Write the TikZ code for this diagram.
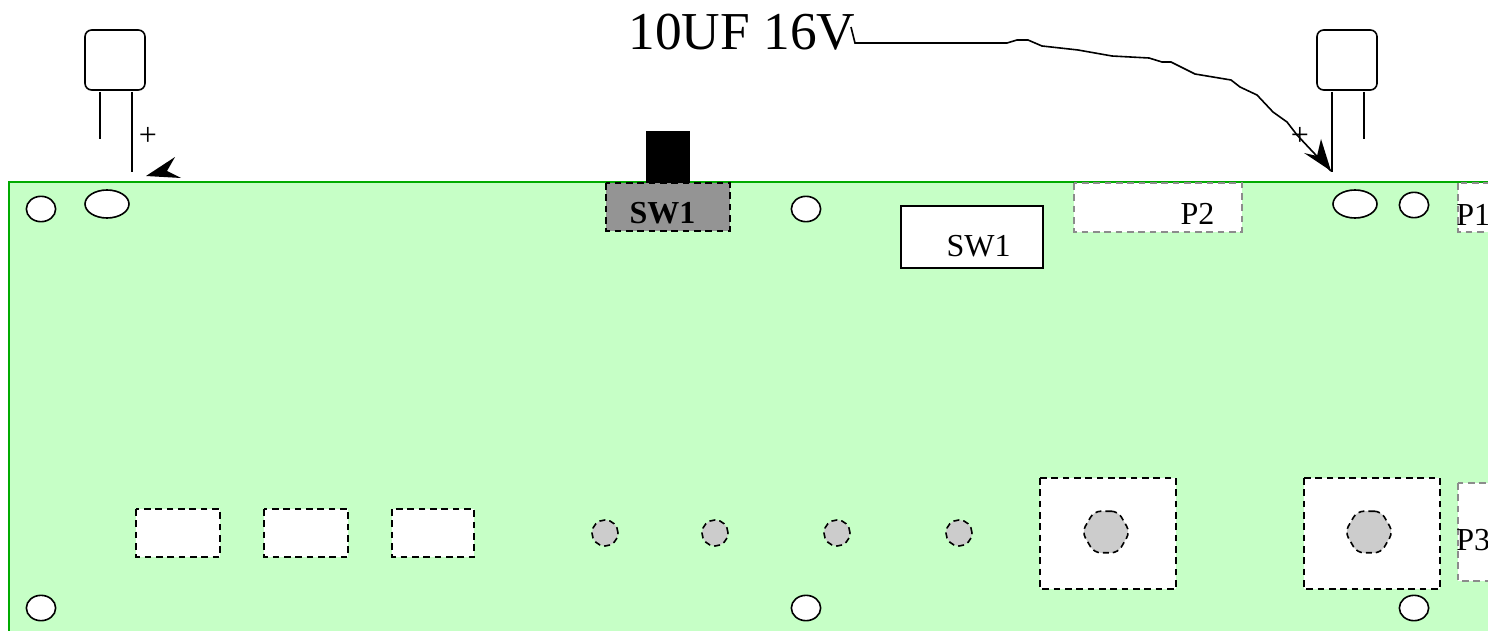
\documentclass[tikz,border=0pt]{standalone}
\usepackage{fontspec}
\setmainfont{Liberation Serif}
\usetikzlibrary{shapes.geometric}
\definecolor{boardfill}{HTML}{C6FFC6}
\definecolor{boardline}{HTML}{00AA00}
\definecolor{swgray}{HTML}{949494}
\definecolor{padgray}{HTML}{CCCCCC}
\definecolor{dashgray}{HTML}{8C8C8C}
\tikzset{
  hole/.style={draw=black,fill=white,ellipse,inner sep=0pt,line width=1.2pt,minimum width=22pt,minimum height=19pt},
  bighole/.style={hole,minimum width=33pt,minimum height=21pt},
  pad/.style={draw=black,fill=padgray,ellipse,inner sep=0pt,line width=1.2pt,dash pattern=on 4.5pt off 3pt,minimum width=19.5pt,minimum height=19.5pt},
  bigpad/.style={draw=black,fill=padgray,regular polygon,regular polygon sides=6,inner sep=0pt,line width=1.2pt,rounded corners=5pt,dash pattern=on 4.5pt off 3pt,minimum size=36pt},
  cutout/.style={draw=black,fill=white,line width=1.2pt,dash pattern=on 5pt off 3.5pt},
  conn/.style={draw=dashgray,fill=white,line width=1.2pt,dash pattern=on 5pt off 3.5pt},
  txt/.style={inner sep=0pt,font=\fontsize{24}{28}\selectfont},
  capbody/.style={draw=black,line width=1.2pt,rounded corners=5pt},
  capleg/.style={draw=black,line width=1.2pt}
}

\begin{document}
\begin{tikzpicture}[x=.75pt,y=-.75pt]
    \useasboundingbox (0,0) rectangle (1488,631);
    \clip (0,0) rectangle (1488,631);

    \fill[boardfill] (9,182) rectangle (1500,640);
    \draw[boardline,line width=1.2pt] (9,640) -- (9,182) -- (1500,182);

    \node[hole] (holetl) at (41,209) {};
    \node[bighole] (holecapl) at (107,204) {};
    \node[hole] (holetm) at (806,209) {};
    \node[bighole] (holecapr) at (1355,204) {};
    \node[hole] (holetr) at (1414,205) {};
    \node[hole] (holebl) at (41,608) {};
    \node[hole] (holebm) at (806,608) {};
    \node[hole] (holebr) at (1414,608) {};

    \draw[capbody] (85,30) rectangle (145,90);
    \draw[capleg] (100,92) -- (100,139);
    \draw[capleg] (132,92) -- (132,172);
    \node[txt] (plusl) at (148,136) {+};
    \fill (146,176) -- (175,157) -- (167,171) -- (181,178) -- cycle;

    \draw[capbody] (1317,30) rectangle (1377,90);
    \draw[capleg] (1332,92) -- (1332,172);
    \draw[capleg] (1364,92) -- (1364,139);
    \node[txt] (plusr) at (1300,136) {+};

    \fill (646,131) rectangle (690,183);
    \draw[cutout,fill=swgray] (606,183) rectangle (730,231);
    \node[txt,font=\fontsize{24}{28}\selectfont\bfseries] (swtop) at (662.5,213) {SW1};

    \draw[fill=white,line width=1.2pt] (901,206) rectangle (1043,268);
    \node[txt] (swlabel) at (978.5,246) {SW1};

    \draw[conn] (1074,183) rectangle (1242,232);
    \node[txt] (ptwo) at (1197.5,213.5) {P2};
    \draw[conn] (1458,183) rectangle (1510,232);
    \node[txt,anchor=west] (pone) at (1456,215) {P1};
    \draw[conn] (1458,483) rectangle (1510,581);
    \node[txt,anchor=west] (pthree) at (1456,540) {P3};

    \draw[cutout] (136,509) rectangle (220,557);
    \draw[cutout] (264,509) rectangle (348,557);
    \draw[cutout] (392,509) rectangle (474,557);

    \node[pad] (pada) at (605,533) {};
    \node[pad] (padb) at (715,533) {};
    \node[pad] (padc) at (837,533) {};
    \node[pad] (padd) at (959,533) {};

    \draw[cutout] (1040,478) rectangle (1176,589);
    \node[bigpad] (pade) at (1106,532) {};
    \draw[cutout] (1304,478) rectangle (1440,589);
    \node[bigpad] (padf) at (1369,532) {};

    \node[inner sep=0pt,font=\fontsize{40}{44}\selectfont] (capvalue) at (742,32) {10UF 16V};
    \coordinate (leadstart) at (851,27);
    \coordinate (leadend) at (1331,171);
    \draw[line width=1.2pt] (leadstart) -- (855,43) -- (1007,43) -- (1017,40) -- (1028,40) -- (1042,46)
      -- (1078,50) -- (1112,56) -- (1149,58) -- (1162,62) -- (1171,62) -- (1195,74) -- (1231,80)
      -- (1240,87) -- (1257,95) -- (1273,112) -- (1287,122) -- (1297,135) -- (1312,151) -- (leadend);
    \fill (leadend) -- (1304,153) -- (1317,156) -- (1321,139) -- cycle;
\end{tikzpicture}
\end{document}
